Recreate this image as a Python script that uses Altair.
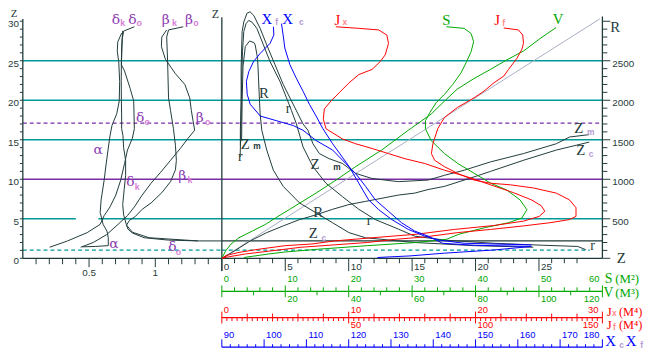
import altair as alt
import pandas as pd

# ================= values =================
# Left panel: form coefficients (horizontal) against draft Z (vertical)
ALPHA_COEF = [0.746, 0.717, 0.713, 0.724, 0.731, 0.728, 0.709, 0.673, 0.658, 0.643, 0.628, 0.614, 0.591, 0.584, 0.606, 0.636, 0.645, 0.645, 0.547, 0.449]
ALPHA_Z = [28.5, 27.4, 26.2, 24.9, 22.4, 19.9, 18.3, 16.8, 15.5, 13.7, 11.8, 9.9, 7.4, 5.8, 4.3, 3.4, 2.6, 1.6, 1.5, 1.45]
DELTA_K_COEF = [0.754, 0.746, 0.744, 0.743, 0.744, 0.746, 0.746, 0.756, 0.761, 0.776, 0.776, 0.765, 0.754, 0.761, 0.781, 0.793, 0.827, 0.916, 1.1, 1.322, 1.5]
DELTA_K_Z = [28.8, 26.8, 24.9, 22.4, 19.9, 18.0, 16.4, 15.5, 14.0, 12.4, 10.5, 8.7, 6.8, 5.5, 4.3, 3.7, 3.2, 2.6, 2.3, 2.2, 2.2]
DELTA_O_COEF = [0.842, 0.761, 0.751, 0.744, 0.768, 0.810, 0.837, 0.842, 0.827, 0.79, 0.768, 0.739, 0.702, 0.658, 0.614, 0.584, 0.486, 0.338, 0.203]
DELTA_O_Z = [29.3, 28.75, 27.8, 24.5, 23.7, 21.5, 19.9, 16.4, 15.2, 13.7, 12.0, 9.9, 8.0, 6.5, 5.4, 4.3, 3.25, 2.2, 1.4]
BETA_K_COEF = [1.211, 1.1, 1.086, 1.093, 1.1, 1.115, 1.137, 1.152, 1.159, 1.152, 1.115, 1.049, 0.968, 0.901, 0.85, 0.805, 0.783, 0.827, 0.953, 1.322]
BETA_K_Z = [29.3, 28.9, 28.0, 24.9, 20.3, 18.7, 16.4, 14.3, 12.4, 11.2, 9.7, 8.3, 7.0, 6.2, 5.3, 4.8, 4.2, 3.3, 2.6, 2.2]
BETA_O_COEF = [1.086, 1.049, 1.046, 1.076, 1.150, 1.223, 1.260, 1.272, 1.285, 1.297, 1.248, 1.189, 1.115, 1.041, 0.968, 0.901, 0.842, 0.79, 0.719, 0.633, 0.532, 0.437]
BETA_O_Z = [28.9, 28.0, 26.8, 25.2, 23.4, 22.0, 20.3, 18.7, 17.4, 16.2, 15.2, 13.9, 12.4, 10.9, 9.5, 8.0, 6.5, 5.4, 4.3, 3.0, 2.0, 1.4]

# Right panel, each curve in the units of its own scale
V_M3 = [0, 1.2, 2.9, 5.4, 9.6, 13.8, 16.9, 21.4, 29.7, 36, 42.2, 50.4, 58.8, 66, 70.2, 74.2, 79.5, 84.7, 89.8, 95.2, 100.3, 105.4]
V_Z = [0, 0.95, 1.8, 2.6, 3.45, 4.3, 5.1, 6.2, 8.25, 9.9, 11.6, 13.7, 16.2, 18.25, 19.9, 21.4, 22.75, 23.9, 25.1, 26.25, 27.8, 29.2]
S_M2 = [3.5, 4.8, 7.4, 10.0, 15.2, 23.0, 30.7, 35.4, 37.4, 41.6, 45.2, 47.3, 48.1, 47.0, 44.9, 42.4, 39.8, 37.2, 35.1, 33.0, 32.1, 32.1, 32.8, 33.8, 35.1, 36.4, 37.7, 38.6, 39.3, 39.7, 39.3, 38.2, 35.4]
S_Z = [0.1, 0.25, 0.55, 0.8, 1.15, 1.6, 2.0, 2.4, 3.05, 3.9, 4.5, 5.1, 6.15, 7.4, 8.65, 9.5, 10.75, 12.0, 13.25, 14.9, 16.4, 17.4, 18.45, 19.7, 20.75, 22.0, 23.45, 24.9, 26.15, 27.4, 28.45, 29.1, 29.3]
JX_M4 = [8.99, 10.8, 12.36, 13.01, 13.14, 12.88, 12.49, 11.84, 10.8, 10.02, 9.25, 8.6, 8.08, 8.0, 8.21, 9.51, 10.54, 11.84, 13.14, 14.44, 15.99, 17.55, 19.36, 21.18, 23.0, 24.4, 25.18, 25.46, 25.02, 23.77, 21.44, 18.33, 15.37, 11.48, 8.89, 7.04, 5.0, 2.92, 1.36, 0.33, 0]
JX_Z = [29.3, 29.1, 28.9, 28.25, 27.2, 25.75, 24.9, 23.9, 23.25, 22.2, 20.95, 19.9, 18.9, 17.6, 16.4, 15.1, 14.5, 13.9, 13.25, 12.6, 12.0, 11.15, 10.3, 9.3, 8.3, 7.4, 6.65, 5.95, 5.3, 4.7, 4.15, 3.65, 3.05, 2.55, 2.2, 1.8, 1.6, 1.15, 0.75, 0.35, 0]
JF_M4 = [111.1, 116.9, 118.6, 118.9, 118.2, 116.3, 113.0, 111.1, 107.2, 103.3, 99.4, 92.9, 87.7, 85.1, 83.2, 82.6, 83.9, 87.7, 92.9, 99.4, 105.9, 113.7, 122.8, 131.8, 137.0, 139.6, 139.6, 137.0, 129.3, 118.9, 105.9, 92.9, 80.0, 68.3, 57.4, 44.4, 31.3, 18.5, 9.4, 2.9, 0]
JF_Z = [29.15, 28.9, 28.25, 27.2, 26.4, 25.3, 23.9, 23.05, 22.2, 21.15, 20.3, 19.1, 17.8, 16.4, 14.5, 13.25, 12.4, 11.6, 10.75, 9.9, 9.5, 9.3, 8.9, 8.25, 7.4, 6.4, 5.3, 4.9, 4.5, 4.1, 3.65, 3.25, 2.7, 2.4, 2.0, 1.7, 1.4, 0.9, 0.55, 0.2, 0]
XF_M = [102.2, 102.3, 101.4, 99.1, 97.5, 96.4, 95.8, 96.0, 96.7, 99.1, 103.0, 106.9, 109.2, 112.3, 116.2, 119.3, 121.6, 124.0, 126.3, 129.4, 132.5, 135.6, 138.8, 142.2, 149.7, 163.2, 154.3, 142.7, 134.5, 126.8]
XF_Z = [29.3, 28.25, 27.2, 25.95, 24.9, 23.65, 22.4, 20.75, 19.5, 18.0, 17.4, 16.8, 16.2, 14.9, 13.7, 12.0, 10.75, 9.1, 7.4, 5.95, 4.5, 3.45, 2.8, 1.9, 1.65, 1.5, 1.05, 0.65, 0.3, 0.1]
XC_M = [104.1, 104.5, 104.9, 106.1, 107.6, 109.2, 110.7, 112.3, 113.9, 116.2, 118.5, 120.1, 122.4, 124.7, 127.1, 130.2, 134.1, 138.0, 141.5, 147.3, 163.2]
XC_Z = [29.7, 28.25, 26.6, 24.5, 22.8, 21.15, 19.5, 18.0, 16.4, 14.5, 12.8, 11.6, 9.5, 7.4, 6.15, 4.9, 3.65, 2.8, 2.3, 1.9, 1.7]
ZC_M = [0, 0.17, 1.21, 2.24, 3.54, 4.84, 6.13, 7.43, 8.73, 10.02, 11.32, 12.62, 13.91, 15.21, 16.25, 17.55, 19.88, 21.18, 23.77, 26.37, 28.96]
ZC_Z = [0, 0.1, 1.15, 2.2, 3.25, 4.1, 4.9, 5.5, 6.2, 6.8, 7.2, 7.6, 8.0, 8.25, 8.7, 9.1, 10.3, 11.0, 12.4, 13.7, 14.7]
ZM_M = [1.46, 1.46, 1.52, 1.52, 1.6, 1.73, 1.98, 2.22, 2.51, 3.02, 3.54, 4.19, 4.84, 5.62, 6.40, 6.79, 7.18, 7.69, 8.47, 9.51, 10.54, 11.84, 13.91, 16.25, 17.55, 19.11, 21.18, 23.77, 26.37, 27.41, 28.96]
ZM_Z = [14.3, 16.2, 19.9, 24.1, 28.7, 29.9, 31.0, 31.2, 30.75, 29.1, 27.0, 24.5, 22.0, 19.5, 17.0, 16.2, 14.5, 13.25, 12.6, 12.0, 10.75, 10.1, 9.7, 9.9, 10.5, 11.15, 12.2, 13.25, 14.5, 15.35, 15.65]
RS_M = [1.44, 1.52, 1.56, 1.63, 1.73, 1.91, 2.12, 2.37, 2.76, 3.28, 3.80, 4.58, 5.10, 5.49, 5.88, 6.40, 7.18, 8.21, 9.51, 10.80, 12.1, 13.91, 15.21, 17.55, 21.44, 25.33, 28.05, 28.68]
RS_Z = [12.8, 17.4, 22.4, 26.2, 28.7, 29.7, 30.1, 29.9, 29.1, 27.0, 24.9, 22.4, 20.3, 18.7, 17.0, 14.1, 11.6, 9.5, 7.8, 6.2, 4.9, 3.7, 2.8, 2.3, 1.9, 1.65, 1.5, 1.1]
RB_M = [1.56, 1.6, 1.67, 1.85, 2.19, 2.53, 2.63, 2.82, 2.89, 2.97, 3.02, 3.15, 3.54, 4.06, 4.84, 6.13, 7.43, 8.73, 10.02, 11.32, 12.62, 15.21, 19.88, 24.55]
RB_Z = [14.9, 19.9, 24.3, 26.8, 27.5, 27.3, 27.0, 25.3, 22.8, 19.9, 18.25, 16.2, 13.7, 11.15, 9.1, 7.0, 5.75, 4.5, 3.25, 2.6, 2.4, 2.0, 1.6, 1.4]
DIAG_M = [0, 29.8]
DIAG_Z = [0, 30.3]

# reference levels (draft Z)
TEAL_LEVELS = [25, 20, 15, 5]
PURPLE_LEVELS = [10]
PURPLE_DASH_LEVELS = [17.1]
TEAL_DASH_LEVELS = [1.04]
DARK_LEVELS = [2.2]

# axes: ticks and labels
Z_TICKS = list(range(0, 31))
Z_LABELS = list(range(0, 31, 5))
COEF_TICKS = [round(0.1 * i, 1) for i in range(1, 15)]
COEF_LABELS = [0.5, 1]
DRAFT_TICKS = list(range(0, 29))
DRAFT_LABELS = [0, 5, 10, 15, 20, 25]
R_LABELS = [500, 1000, 1500, 2000, 2500]
S_TICKS = list(range(0, 61, 2))
S_LABELS = [0, 10, 20, 30, 40, 50, 60]
V_TICKS = list(range(10, 120, 20))
V_LABELS = [20, 40, 60, 80, 100, 120]
JF_TICKS = list(range(0, 151, 2))
JF_MID = list(range(0, 151, 10))
JF_BIG = [0, 50, 100, 150]
JX_LABELS = [0, 10, 20, 30]
JF_LABELS = [50, 100, 150]
X_TICKS = list(range(90, 181, 2))
X_LABELS = list(range(90, 181, 10))

# ================= layout =================
W, H = 650, 342
Y_DOMAIN = [-11.34, 31.41]
ZPX = (Y_DOMAIN[1] - Y_DOMAIN[0]) / H
LEFT_RANGE = [15.0, 216.2]
RIGHT_RANGE = [216.5, 601.8]
LPX = 1.5 / (LEFT_RANGE[1] - LEFT_RANGE[0])
RPX = 30.0 / (RIGHT_RANGE[1] - RIGHT_RANGE[0])
S_AXIS_Z, J_AXIS_Z, X_AXIS_Z = -4.18, -7.5, -11.25

DARK = "#1F3A3A"
TEAL = "#009999"
PURPLE = "#7A2EA6"
GREEN = "#00A800"
RED = "#FF0000"
BLUE = "#0000FF"
GREY = "#A9AFC2"
LBL_PURPLE = "#8B3BB2"
LBL_PINK = "#D77FD7"
SUB_LILAC = "#B49AD8"
SUB_PINK = "#FF8A8A"
SERIF = "Liberation Serif"
GREEK = "DejaVu Serif"
SANS = "Liberation Sans"

YS = alt.Scale(domain=Y_DOMAIN, nice=False, zero=False)


def lin(domain, rng):
    return alt.Scale(domain=domain, range=rng, nice=False, zero=False)


SC_COEF = lin([0, 1.5], LEFT_RANGE)
SC_Z = lin([0, 30], RIGHT_RANGE)
SC_S = lin([0, 60], RIGHT_RANGE)
SC_V = lin([0, 120], RIGHT_RANGE)
SC_JX = lin([0, 30], RIGHT_RANGE)
SC_JF = lin([0, 150], RIGHT_RANGE)
SC_X = lin([90, 180], RIGHT_RANGE)


def curve(x, z, sc, color, width=1.0, dash=None):
    df = pd.DataFrame({"x": x, "z": z, "i": list(range(len(x)))})
    kw = dict(color=color, strokeWidth=width)
    if dash:
        kw["strokeDash"] = dash
    return alt.Chart(df).mark_line(**kw).encode(
        x=alt.X("x:Q", scale=sc, axis=None),
        y=alt.Y("z:Q", scale=YS, axis=None),
        order=alt.Order("i:Q"),
    )


def segs(x, x2, z, z2, sc, color, width=1.0, dash=None):
    df = pd.DataFrame({"x": x, "x2": x2, "z": z, "z2": z2})
    kw = dict(color=color, strokeWidth=width)
    if dash:
        kw["strokeDash"] = dash
    return alt.Chart(df).mark_rule(**kw).encode(
        x=alt.X("x:Q", scale=sc, axis=None), x2="x2:Q",
        y=alt.Y("z:Q", scale=YS, axis=None), y2="z2:Q",
    )


def texts(rows, sc, font, align="center", baseline="middle", dx=0, dy=0, weight="normal"):
    df = pd.DataFrame(rows, columns=["t", "x", "z", "col", "size"])
    return alt.Chart(df).mark_text(font=font, align=align, baseline=baseline, dx=dx, dy=dy,
                                   fontWeight=weight).encode(
        x=alt.X("x:Q", scale=sc, axis=None),
        y=alt.Y("z:Q", scale=YS, axis=None),
        text="t:N",
        color=alt.Color("col:N", scale=None),
        size=alt.Size("size:Q", scale=None),
    )


def vticks(vals, sc, z0, up_px, down_px, color, width=1.0):
    n = len(vals)
    return segs(vals, vals, [z0 + up_px * ZPX] * n, [z0 - down_px * ZPX] * n, sc, color, width)


L = []
# ---- reference lines ----
L.append(segs([0, 0, 0, 0, 0.57], [1.5, 1.5, 1.5, 0.40, 1.5], [25, 20, 15, 5, 5], [25, 20, 15, 5, 5], SC_COEF, TEAL, 1.6))
L.append(segs([0] * 4, [30] * 4, TEAL_LEVELS, TEAL_LEVELS, SC_Z, TEAL, 1.6))
L.append(segs([0], [1.5], PURPLE_LEVELS, PURPLE_LEVELS, SC_COEF, PURPLE, 1.5))
L.append(segs([0], [30], PURPLE_LEVELS, PURPLE_LEVELS, SC_Z, PURPLE, 1.5))
L.append(segs([0], [1.5], PURPLE_DASH_LEVELS, PURPLE_DASH_LEVELS, SC_COEF, PURPLE, 1.3, [4, 3]))
L.append(segs([0], [30], PURPLE_DASH_LEVELS, PURPLE_DASH_LEVELS, SC_Z, PURPLE, 1.3, [4, 3]))
L.append(segs([0], [1.5], TEAL_DASH_LEVELS, TEAL_DASH_LEVELS, SC_COEF, TEAL, 1.2, [4, 3]))
L.append(segs([0], [29], TEAL_DASH_LEVELS, TEAL_DASH_LEVELS, SC_Z, TEAL, 1.2, [4, 3]))
L.append(segs([0], [30], DARK_LEVELS, DARK_LEVELS, SC_Z, DARK, 1.2))

# ---- axis frame lines ----
L.append(segs([0], [0], [0], [30.3], SC_COEF, DARK, 1.3))
L.append(segs([0], [0], [-1.6], [30.5], SC_Z, DARK, 1.3))
L.append(segs([30], [30], [0], [30.6], SC_Z, DARK, 1.3))
L.append(segs([0], [1.5], [0], [0], SC_COEF, DARK, 1.3))
L.append(segs([0], [30], [0], [0], SC_Z, DARK, 1.3))
L.append(segs([0], [60], [S_AXIS_Z], [S_AXIS_Z], SC_S, GREEN, 1.3))
L.append(segs([0], [150], [J_AXIS_Z], [J_AXIS_Z], SC_JF, RED, 1.3))
L.append(segs([90], [180], [X_AXIS_Z], [X_AXIS_Z], SC_X, BLUE, 1.3))

# ---- curves ----
L.append(curve(DIAG_M, DIAG_Z, SC_Z, GREY))
L.append(curve(ALPHA_COEF, ALPHA_Z, SC_COEF, DARK))
L.append(curve(DELTA_K_COEF, DELTA_K_Z, SC_COEF, DARK))
L.append(curve(DELTA_O_COEF, DELTA_O_Z, SC_COEF, DARK))
L.append(curve(BETA_K_COEF, BETA_K_Z, SC_COEF, DARK))
L.append(curve(BETA_O_COEF, BETA_O_Z, SC_COEF, DARK))
L.append(curve(ZC_M, ZC_Z, SC_Z, DARK))
L.append(curve(ZM_M, ZM_Z, SC_Z, DARK))
L.append(curve(RS_M, RS_Z, SC_Z, DARK))
L.append(curve(RB_M, RB_Z, SC_Z, DARK))
L.append(curve(V_M3, V_Z, SC_V, GREEN))
L.append(curve(S_M2, S_Z, SC_S, GREEN))
L.append(curve(JX_M4, JX_Z, SC_JX, RED))
L.append(curve(JF_M4, JF_Z, SC_JF, RED))
L.append(curve(XF_M, XF_Z, SC_X, BLUE))
L.append(curve(XC_M, XC_Z, SC_X, BLUE))

# ---- ticks ----
n = len(Z_TICKS)
L.append(segs([-3 * LPX] * n, [0] * n, Z_TICKS, Z_TICKS, SC_COEF, DARK))
minor_r = [v for v in Z_TICKS if v % 5]
major_r = [v for v in Z_TICKS if v % 5 == 0]
L.append(segs([30] * len(minor_r), [30 + 5 * RPX] * len(minor_r), minor_r, minor_r, SC_Z, DARK))
L.append(segs([30] * len(major_r), [30 + 8 * RPX] * len(major_r), major_r, major_r, SC_Z, DARK))
L.append(vticks([v for v in COEF_TICKS if v not in (0.5, 1.0)], SC_COEF, 0, 0, 6, DARK))
L.append(vticks([0.5, 1.0], SC_COEF, 0, 0, 9, DARK))
L.append(vticks([v for v in DRAFT_TICKS if v % 5], SC_Z, 0, 0, 5, DARK))
L.append(vticks([v for v in DRAFT_TICKS if v % 5 == 0], SC_Z, 0, 0, 13, DARK))
L.append(vticks(S_LABELS, SC_S, S_AXIS_Z, 6, 6, GREEN))
L.append(vticks([v for v in S_TICKS if v % 10], SC_S, S_AXIS_Z, 4, 0, GREEN))
L.append(vticks(V_TICKS, SC_V, S_AXIS_Z, 0, 4, GREEN))
L.append(vticks([v for v in JF_TICKS if v % 10], SC_JF, J_AXIS_Z, 0, 3.5, RED))
L.append(vticks([v for v in JF_MID if v % 50], SC_JF, J_AXIS_Z, 4, 4, RED))
L.append(vticks(JF_BIG, SC_JF, J_AXIS_Z, 6, 6, RED))
L.append(vticks([v for v in X_TICKS if v % 10], SC_X, X_AXIS_Z, 3, 0, BLUE))
L.append(vticks(X_LABELS, SC_X, X_AXIS_Z, 8, 0, BLUE))

# ---- tick labels ----
NUM = 9.5
L.append(texts([(str(v), 0, v, DARK, 10) for v in Z_LABELS], SC_COEF, SANS, align="right", dx=-4, dy=3))
L.append(texts([(f"{v:g}", v, 0, DARK, 10) for v in COEF_LABELS], SC_COEF, SANS, baseline="top", dy=10))
L.append(texts([(str(v), v, 0, DARK, 10) for v in DRAFT_LABELS], SC_Z, SANS, align="left", dx=2, dy=9))
L.append(texts([(str(v), 30, v / 100, DARK, 10) for v in R_LABELS], SC_Z, SANS, align="left", dx=10, dy=3))
L.append(texts([(str(v), v, S_AXIS_Z, GREEN, NUM) for v in S_LABELS[:-1]], SC_S, SANS, align="left", dx=2, dy=-12))
L.append(texts([(str(S_LABELS[-1]), S_LABELS[-1], S_AXIS_Z, GREEN, NUM)], SC_S, SANS, align="right", dx=-3, dy=-12))
L.append(texts([(str(v), v, S_AXIS_Z, GREEN, NUM) for v in V_LABELS[:-1]], SC_V, SANS, align="left", dx=2, dy=8))
L.append(texts([(str(V_LABELS[-1]), V_LABELS[-1], S_AXIS_Z, GREEN, NUM)], SC_V, SANS, align="right", dx=-3, dy=8))
L.append(texts([(str(v), v, J_AXIS_Z, RED, NUM) for v in JX_LABELS[:-1]], SC_JX, SANS, align="left", dx=2, dy=-8))
L.append(texts([(str(JX_LABELS[-1]), JX_LABELS[-1], J_AXIS_Z, RED, NUM)], SC_JX, SANS, align="right", dx=-4, dy=-8))
L.append(texts([(str(v), v, J_AXIS_Z, RED, NUM) for v in JF_LABELS[:-1]], SC_JF, SANS, align="left", dx=2, dy=8))
L.append(texts([(str(JF_LABELS[-1]), JF_LABELS[-1], J_AXIS_Z, RED, NUM)], SC_JF, SANS, align="right", dx=-4, dy=8))
L.append(texts([(str(v), v, X_AXIS_Z, BLUE, NUM) for v in X_LABELS[:-1]], SC_X, SANS, align="left", dx=2, dy=-12))
L.append(texts([(str(X_LABELS[-1]), X_LABELS[-1], X_AXIS_Z, BLUE, NUM)], SC_X, SANS, align="right", dx=-3, dy=-12))

# ---- curve names ----
LEFT_GREEK = [("δ", 0.702, 30.16), ("δ", 0.827, 30.16), ("β", 1.078, 30.16), ("β", 1.255, 30.16),
              ("δ", 0.886, 17.8), ("β", 1.336, 17.8), ("α", 0.569, 13.7), ("δ", 0.813, 9.66),
              ("β", 1.204, 10.4), ("α", 0.687, 1.79), ("δ", 1.13, 1.41)]
LEFT_SUBS = [("k", 0.754, 29.8), ("o", 0.879, 29.8), ("k", 1.145, 29.8), ("o", 1.307, 29.8),
             ("o", 0.938, 17.2), ("o", 1.395, 17.2), ("k", 0.864, 9.04), ("k", 1.262, 9.9), ("o", 1.174, 0.85)]
L.append(texts([(t, x, z, LBL_PURPLE, 14) for t, x, z in LEFT_GREEK], SC_COEF, GREEK))
L.append(texts([(t, x, z, LBL_PINK, 9) for t, x, z in LEFT_SUBS], SC_COEF, SANS, weight="bold"))
L.append(texts([("Z", -0.067, 30.87, DARK, 11)], SC_COEF, SERIF))

RIGHT_BIG = [("X", 3.54, 30.29, BLUE, 15), ("X", 5.18, 30.29, BLUE, 15), ("J", 9.1, 30.2, RED, 15),
             ("S", 17.7, 30.16, GREEN, 15), ("J", 21.71, 30.2, RED, 15), ("V", 26.5, 30.3, GREEN, 15),
             ("R", 31.0, 29.3, DARK, 15), ("R", 3.31, 20.9, DARK, 15), ("r", 5.21, 18.85, DARK, 14),
             ("Z", 1.85, 14.5, DARK, 15), ("r", 1.46, 12.8, DARK, 14), ("Z", 7.35, 11.9, DARK, 15),
             ("R", 7.59, 5.91, DARK, 15), ("Z", 7.2, 3.16, DARK, 15), ("r", 11.6, 4.73, DARK, 14),
             ("Z", 28.13, 16.54, DARK, 15), ("Z", 28.29, 13.66, DARK, 15), ("r", 29.22, 1.6, DARK, 14),
             ("Z", 31.48, 0.04, DARK, 15), ("Z", -0.51, 30.87, DARK, 12),
             ("S", 30.49, -2.65, GREEN, 14), ("V", 30.49, -4.4, GREEN, 14),
             ("J", 30.55, -6.75, RED, 13), ("J", 30.55, -8.45, RED, 13),
             ("X", 30.65, -10.53, BLUE, 15), ("X", 32.26, -10.53, BLUE, 15)]
RIGHT_SUBS = [("f", 4.32, 29.9, SUB_LILAC), ("c", 6.26, 29.85, SUB_LILAC), ("x", 9.69, 29.9, SUB_PINK),
              ("f", 22.22, 29.8, SUB_PINK), ("m", 2.76, 14.16, DARK), ("m", 9.07, 11.5, DARK),
              ("c", 8.05, 2.6, SUB_LILAC), ("m", 29.07, 16.04, SUB_LILAC), ("c", 29.1, 13.2, SUB_LILAC),
              ("x", 30.95, -6.95, SUB_PINK), ("f", 30.95, -8.65, SUB_PINK),
              ("c", 31.52, -10.96, SUB_LILAC), ("f", 33.1, -10.96, SUB_LILAC)]
UNITS = [("(М²)", 31.01, -2.65, GREEN, 13), ("(М³)", 31.01, -4.4, GREEN, 13),
         ("(М⁴)", 31.3, -6.75, RED, 12.5), ("(М⁴)", 31.3, -8.45, RED, 12.5)]
L.append(texts(RIGHT_BIG, SC_Z, SERIF))
L.append(texts([(t, x, z, c, 8.5) for t, x, z, c in RIGHT_SUBS], SC_Z, SANS, weight="bold"))
L.append(texts(UNITS, SC_Z, SERIF, align="left"))

chart = alt.layer(*L).resolve_scale(x="independent").properties(
    width=W, height=H, autosize=alt.AutoSizeParams(type="none"), padding=0, background="white"
).configure_view(stroke="transparent")

chart.save("out.html", embed_options={"renderer": "svg", "actions": False})
